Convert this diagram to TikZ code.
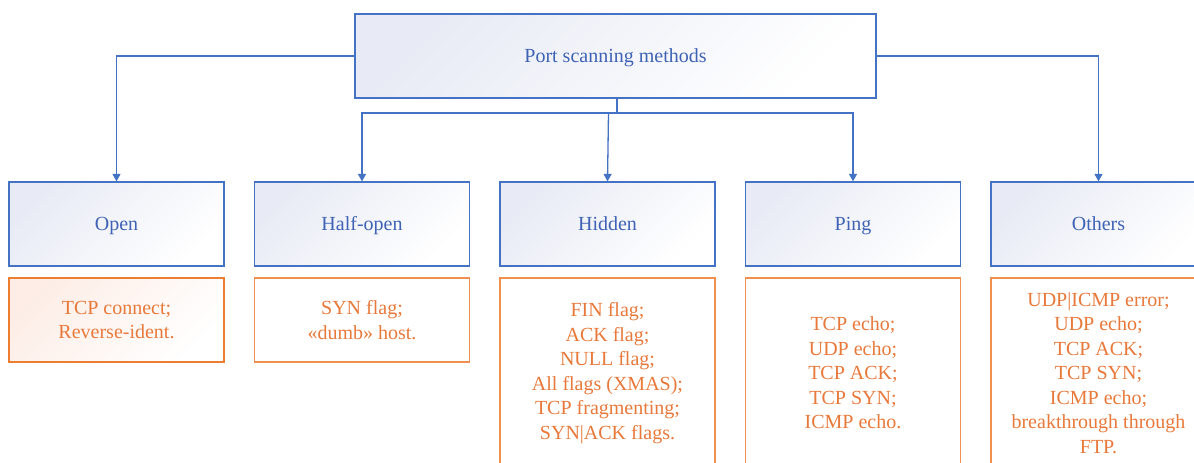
\documentclass[tikz,border=0pt]{standalone}
\usepackage{fontspec}
\setmainfont{Liberation Serif}
\usetikzlibrary{arrows.meta}
\definecolor{bluel}{HTML}{4472C4}
\definecolor{bluet}{HTML}{3F62B4}
\definecolor{bluef}{HTML}{E8EBF5}
\definecolor{orl}{HTML}{ED7D31}
\definecolor{ort}{HTML}{E8793A}
\definecolor{orf}{HTML}{FDEDE6}
\tikzset{
  bluebox/.style={draw=bluel, line width=1.2pt, top color=bluef, bottom color=white, shading angle=45,
    minimum height=84pt, inner sep=0pt, text height=16pt, text depth=4pt, text=bluet,
    font=\fontsize{20pt}{24.5pt}\selectfont},
  orbox/.style={draw=orl!85, line width=1.2pt, fill=white, minimum width=215pt, inner sep=0pt,
    text=ort, align=center, font=\fontsize{20pt}{24.5pt}\selectfont},
  conn/.style={draw=bluel, line width=1.3pt},
  arr/.style={conn, -{Triangle[width=8pt,length=7.5pt]}}
}
\begin{document}
\begin{tikzpicture}[x=1pt,y=-1pt]
\useasboundingbox (0,0) rectangle (1194,463);
\clip (0,0) rectangle (1194,463);
\node[bluebox, minimum width=521pt] (top) at (615.5,56) {Port scanning methods};
\node[bluebox, minimum width=215pt] (open) at (116.5,224) {Open};
\node[bluebox, minimum width=215pt] (half) at (362,224) {Half-open};
\node[bluebox, minimum width=215pt] (hid) at (607.5,224) {Hidden};
\node[bluebox, minimum width=215pt] (ping) at (853,224) {Ping};
\node[bluebox, minimum width=215pt] (oth) at (1098.5,224) {Others};
\node[orbox, minimum height=84pt, draw=orl, top color=orf, bottom color=white, shading angle=45] (o1) at (116.5,320) {TCP connect;\\Reverse-ident.};
\node[orbox, minimum height=84pt] (o2) at (362,320) {SYN flag;\\«dumb» host.};
\node[orbox, minimum height=190pt] (o3) at (607.5,373) {FIN flag;\\ACK flag;\\NULL flag;\\All flags (XMAS);\\TCP fragmenting;\\SYN|ACK flags.};
\node[orbox, minimum height=190pt] (o4) at (853,373) {TCP echo;\\UDP echo;\\TCP ACK;\\TCP SYN;\\ICMP echo.};
\node[orbox, minimum height=190pt] (o5) at (1098.5,373) {UDP|ICMP error;\\UDP echo;\\TCP ACK;\\TCP SYN;\\ICMP echo;\\breakthrough through\\FTP.};
\coordinate (stem) at (617,113);
\draw[conn, line width=2pt] (top.south -| stem) -- (stem);
\draw[arr] (stem) -| (half.north);
\draw[arr] (stem) -| (ping.north);
\draw[arr] ([xshift=1pt]hid.north |- stem) -- (hid.north);
\draw[arr] (top.west) -| (open.north);
\draw[arr] (top.east) -| (oth.north);
\end{tikzpicture}
\end{document}
